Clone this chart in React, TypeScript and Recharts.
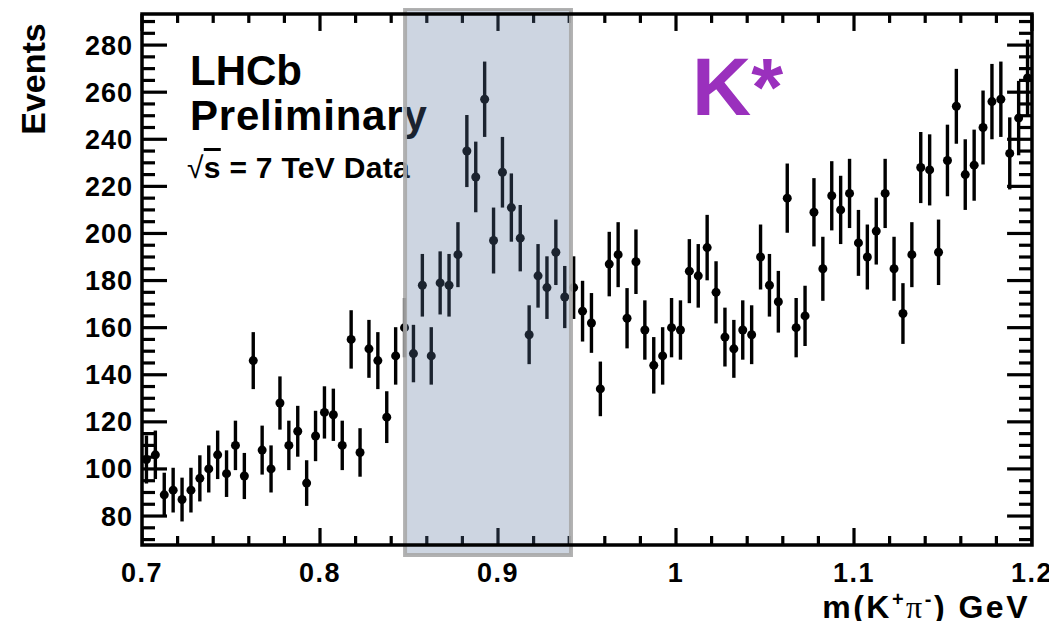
import React from 'react';
import { ScatterChart, Scatter, XAxis, YAxis, ErrorBar, ReferenceArea, ReferenceLine } from 'recharts';

// bin centres of m(K+ pi-) [GeV]
const massBins = [
  0.7025, 0.7075, 0.7125, 0.7175, 0.7225, 0.7275, 0.7325, 0.7375, 0.7425, 0.7475,
  0.7525, 0.7575, 0.7625, 0.7675, 0.7725, 0.7775, 0.7825, 0.7875, 0.7925, 0.7975,
  0.8025, 0.8075, 0.8125, 0.8175, 0.8225, 0.8275, 0.8325, 0.8375, 0.8425, 0.8475,
  0.8525, 0.8575, 0.8625, 0.8675, 0.8725, 0.8775, 0.8825, 0.8875, 0.8925, 0.8975,
  0.9025, 0.9075, 0.9125, 0.9175, 0.9225, 0.9275, 0.9325, 0.9375, 0.9425, 0.9475,
  0.9525, 0.9575, 0.9625, 0.9675, 0.9725, 0.9775, 0.9825, 0.9875, 0.9925, 0.9975,
  1.0025, 1.0075, 1.0125, 1.0175, 1.0225, 1.0275, 1.0325, 1.0375, 1.0425, 1.0475,
  1.0525, 1.0575, 1.0625, 1.0675, 1.0725, 1.0775, 1.0825, 1.0875, 1.0925, 1.0975,
  1.1025, 1.1075, 1.1125, 1.1175, 1.1225, 1.1275, 1.1325, 1.1375, 1.1425, 1.1475,
  1.1525, 1.1575, 1.1625, 1.1675, 1.1725, 1.1775, 1.1825, 1.1875, 1.1925, 1.1975,
];

const events = [
  104, 106, 89, 91, 87, 91, 96, 100, 106, 98,
  110, 97, 146, 108, 100, 128, 110, 116, 94, 114,
  124, 123, 110, 155, 107, 151, 146, 122, 148, 160,
  149, 178, 148, 179, 178, 191, 235, 224, 257, 197,
  226, 211, 198, 157, 182, 177, 192, 173, 177, 167,
  162, 134, 187, 191, 164, 188, 159, 144, 148, 160,
  159, 184, 182, 194, 175, 156, 151, 159, 157, 190,
  178, 171, 215, 160, 165, 209, 185, 216, 210, 217,
  196, 190, 201, 217, 185, 166, 191, 228, 227, 192,
  231, 254, 225, 229, 245, 256, 257, 234, 249, 266,
];

const eventErrors = [
  10.2, 10.3, 9.4, 9.5, 9.3, 9.5, 9.8, 10, 10.3, 9.9,
  10.5, 9.8, 12.1, 10.4, 10, 11.3, 10.5, 10.8, 9.7, 10.7,
  11.1, 11.1, 10.5, 12.4, 10.3, 12.3, 12.1, 11, 12.2, 12.6,
  12.2, 13.3, 12.2, 13.4, 13.3, 13.8, 15.3, 15, 16, 14,
  15, 14.5, 14.1, 12.5, 13.5, 13.3, 13.9, 13.2, 13.3, 12.9,
  12.7, 11.6, 13.7, 13.8, 12.8, 13.7, 12.6, 12, 12.2, 12.6,
  12.6, 13.6, 13.5, 13.9, 13.2, 12.5, 12.3, 12.6, 12.5, 13.8,
  13.3, 13.1, 14.7, 12.6, 12.8, 14.5, 13.6, 14.7, 14.5, 14.7,
  14, 13.8, 14.2, 14.7, 13.6, 12.9, 13.8, 15.1, 15.1, 13.9,
  15.2, 15.9, 15, 15.1, 15.7, 16, 16, 15.3, 15.8, 16.3,
];

const xTicks = [
  0.7, 0.72, 0.74, 0.76, 0.78, 0.8, 0.82, 0.84, 0.86, 0.88, 0.9, 0.92, 0.94,
  0.96, 0.98, 1.0, 1.02, 1.04, 1.06, 1.08, 1.1, 1.12, 1.14, 1.16, 1.18, 1.2,
];
const xMajorLabels = ['0.7', '0.8', '0.9', '1', '1.1', '1.2'];

const yTicks = [
  70, 75, 80, 85, 90, 95, 100, 105, 110, 115, 120, 125, 130, 135, 140, 145, 150,
  155, 160, 165, 170, 175, 180, 185, 190, 195, 200, 205, 210, 215, 220, 225, 230,
  235, 240, 245, 250, 255, 260, 265, 270, 275, 280, 285, 290,
];
const yMajorLabels = ['80', '100', '120', '140', '160', '180', '200', '220', '240', '260', '280'];

const xRange = [0.7, 1.2];
const yRange = [67.7, 293.2];
const signalWindow = [0.8478, 0.941];
const windowYRange = [63.5, 295.3];

const data = massBins.map((m, i) => ({ m, n: events[i], e: eventErrors[i] }));

const FONT = '"Liberation Sans", Arial, Helvetica, sans-serif';
const W = 1049;
const H = 621;

// tick sizes in axis units for the top / right frame edges
const TOP_TICK_MAJOR = 7.2;
const TOP_TICK_MINOR = 3.8;
const TOP_TICK_HALF_W = 0.0009;
const RIGHT_TICK_MAJOR = 0.014;
const RIGHT_TICK_MINOR = 0.0073;

const xLabelFor = (v: number) => {
  const s = String(Math.round(v * 10) / 10);
  return Math.abs(v * 10 - Math.round(v * 10)) < 1e-6 && xMajorLabels.includes(s) ? s : null;
};
const yLabelFor = (v: number) => (yMajorLabels.includes(String(v)) ? String(v) : null);

const bottomTickPts = xTicks.map((v) => ({ m: v, n: yRange[0], major: !!xLabelFor(v) }));

const TW = 3.2;
const BottomMark = (p: any) => {
  const len = p.payload && p.payload.major ? 17 : 9;
  return <rect x={p.cx - TW / 2} y={p.cy - len} width={TW} height={len} fill="#000" />;
};

const BottomLabel = (p: any) => {
  const lab = xLabelFor(p.payload.value);
  if (!lab) return <g />;
  return (
    <text x={p.x} y={p.y + 37} textAnchor="middle" fontFamily={FONT} fontWeight="bold" fontSize={27} letterSpacing={1.5} fill="#000">
      {lab}
    </text>
  );
};
const LeftLabel = (p: any) => {
  const lab = yLabelFor(p.payload.value);
  return (
    <g>
      <line x1={p.x} x2={p.x + (lab ? 25 : 13)} y1={p.y} y2={p.y} stroke="#000" strokeWidth={TW} />
      {lab && (
        <text x={p.x - 9} y={p.y + 9.5} textAnchor="end" fontFamily={FONT} fontWeight="bold" fontSize={27} letterSpacing={1} fill="#000">
          {lab}
        </text>
      )}
    </g>
  );
};

export default function App() {
  const [y0, y1] = yRange;
  const [x0, x1] = xRange;
  return (
    <div style={{ position: 'relative', width: W, height: H, marginBottom: -8 }}>
      <ScatterChart width={W} height={H} margin={{ top: 6, right: 25, bottom: 0, left: 0 }}>
        <XAxis xAxisId="b" orientation="bottom" type="number" dataKey="m" domain={xRange} ticks={xTicks} interval={0}
          allowDataOverflow tickLine={false} tickSize={0} tickMargin={0} axisLine={false} height={84}
          tick={(p: any) => <BottomLabel {...p} />} />
        <YAxis yAxisId="l" orientation="left" type="number" dataKey="n" domain={yRange} ticks={yTicks} interval={0}
          allowDataOverflow tickLine={false} tickSize={0} tickMargin={0} axisLine={false} width={134}
          tick={(p: any) => <LeftLabel {...p} />} />

        <text x={182} y={77} fontFamily={FONT} fontWeight="bold" fontSize={42} fill="#000">LHCb</text>
        <text x={182} y={122} fontFamily={FONT} fontWeight="bold" fontSize={42} letterSpacing={0.8} fill="#000">Preliminary</text>
        <text x={179} y={170} fontFamily={FONT} fontWeight="bold" fontSize={30} letterSpacing={0.3} fill="#000">
          <tspan fontWeight="normal">√</tspan>
          <tspan style={{ textDecoration: 'overline' }}>s</tspan>
          <tspan> = 7 TeV Data</tspan>
        </text>
        <text x={684} y={107} fontFamily={FONT} fontWeight="bold" fontSize={82} fill="#9a30bd">K*</text>

        <text transform="translate(37,71) rotate(-90)" textAnchor="middle" fontFamily={FONT} fontWeight="bold" fontSize={34} fill="#000">Events</text>
        <text x={1022} y={610} textAnchor="end" fontFamily={FONT} fontWeight="bold" fontSize={32} letterSpacing={2.5} fill="#000">
          m(K<tspan fontSize={20} dy={-12}>+</tspan><tspan fontFamily='"Liberation Serif", serif' fontWeight="normal" fontSize={32} dy={12}>π</tspan><tspan fontSize={20} dy={-12}>-</tspan><tspan dy={12}>) GeV</tspan>
        </text>

        <Scatter xAxisId="b" yAxisId="l" data={data} dataKey="n" fill="#000" isAnimationActive={false}
          shape={(p: any) => <circle cx={p.cx} cy={p.cy} r={4.5} fill="#000" />}>
          <ErrorBar dataKey="e" direction="y" width={0} stroke="#000" strokeWidth={3.4} isAnimationActive={false} />
        </Scatter>

        <Scatter xAxisId="b" yAxisId="l" data={bottomTickPts} dataKey="n" isAnimationActive={false} shape={(p: any) => <BottomMark {...p} />} />

        {xTicks.map((v, i) => {
          const len = xLabelFor(v) ? TOP_TICK_MAJOR : TOP_TICK_MINOR;
          return (
            <ReferenceArea key={`t${i}`} xAxisId="b" yAxisId="l" ifOverflow="visible" x1={v - TOP_TICK_HALF_W} x2={v + TOP_TICK_HALF_W}
              y1={y1 - len} y2={y1} fill="#000" fillOpacity={1} />
          );
        })}
        {yTicks.map((v, i) => {
          const len = yLabelFor(v) ? RIGHT_TICK_MAJOR : RIGHT_TICK_MINOR;
          return (
            <ReferenceLine key={`r${i}`} xAxisId="b" yAxisId="l" ifOverflow="visible" stroke="#000" strokeWidth={TW}
              segment={[{ x: x1, y: v }, { x: x1 - len, y: v }]} />
          );
        })}

        <ReferenceArea xAxisId="b" yAxisId="l" x1={signalWindow[0]} x2={signalWindow[1]} y1={windowYRange[0]} y2={windowYRange[1]}
          ifOverflow="visible" fill="rgb(90,116,155)" fillOpacity={0.3} stroke="#a8a8a8" strokeOpacity={0.9} strokeWidth={4}
          zIndex={700} />
        <ReferenceArea xAxisId="b" yAxisId="l" x1={x0} x2={x1} y1={y0} y2={y1} ifOverflow="visible"
          fill="none" stroke="#000" strokeWidth={3.5} zIndex={800} />
      </ScatterChart>
    </div>
  );
}
